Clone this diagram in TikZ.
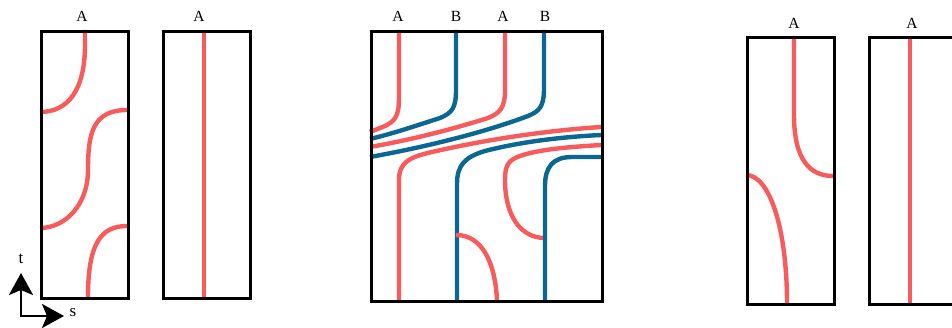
\documentclass[tikz,border=0pt]{standalone}
\usepackage{fontspec}
\setmainfont{Liberation Serif}
\usetikzlibrary{arrows.meta}
\definecolor{strandred}{HTML}{F75B5B}
\definecolor{strandblue}{HTML}{0A6792}
\tikzset{
  frame/.style={draw=black, line width=2.8pt},
  redstrand/.style={draw=strandred, line width=4.4pt},
  bluestrand/.style={draw=strandblue, line width=4.4pt},
  lbl/.style={anchor=base, inner sep=0pt, font=\fontsize{15.5}{17}\selectfont},
  axis/.style={draw=black, line width=2.8pt, -{Stealth[length=22pt,width=24pt,inset=5pt]}},
  axlbl/.style={inner sep=0pt, font=\fontsize{17}{19}\selectfont}
}
\begin{document}
\begin{tikzpicture}[x=1pt,y=-1pt]
\useasboundingbox (0,0) rectangle (952,328);
\clip (0,0) rectangle (952,328);

% ---------- box 1 ----------
\draw[redstrand] (85,30) -- (85,45) .. controls (85,90) and (68,112) .. (40,112);
\draw[redstrand] (127,110) .. controls (92,110) and (88,135) .. (88,170)
                 .. controls (88,205) and (65,228) .. (40,228);
\draw[redstrand] (127,226) .. controls (100,226) and (88,245) .. (88,297);
\node[frame, minimum width=87pt, minimum height=267pt, inner sep=0pt, anchor=north west] (b1) at (40,30) {};
\node[lbl] (l1) at (82,22) {A};

% ---------- box 2 ----------
\draw[redstrand] (204,30) -- (204,297);
\node[frame, minimum width=87pt, minimum height=267pt, inner sep=0pt, anchor=north west] (b2) at (162,30) {};
\node[lbl] (l2) at (199,22) {A};

% ---------- axes ----------
\coordinate (o) at (21,316);
\coordinate (tt) at (21,273);
\coordinate (ss) at (64,316);
\draw[axis] ([yshift=-1.4pt]o) -- (tt);
\draw[axis] (o) -- (ss);
\node[axlbl] (lt) at (21,259) {t};
\node[axlbl] (ls) at (73,313) {s};

% ---------- box 3 ----------
% top strands
\draw[redstrand] (399,30) -- (399,98) .. controls (399,116) and (395,121) .. (385,126) -- (370,132);
\draw[bluestrand] (456,30) -- (456,90) .. controls (456,108) and (452,113) .. (440,118)
                  .. controls (415,126) and (395,133) .. (370,139);
\draw[redstrand] (505,30) -- (505,90) .. controls (505,108) and (500,113) .. (488,118)
                 .. controls (450,130) and (410,140) .. (370,147);
\draw[bluestrand] (544,30) -- (544,88) .. controls (544,106) and (540,111) .. (528,116)
                  .. controls (480,134) and (420,148) .. (370,157);
% bottom strands
\draw[redstrand] (399,300) -- (399,180) .. controls (399,162) and (410,157) .. (432,152)
                 .. controls (480,141) and (540,131) .. (601,127);
\draw[bluestrand] (457,300) -- (457,184) .. controls (457,165) and (465,157) .. (485,151)
                  .. controls (520,142) and (560,137) .. (601,135);
\draw[redstrand] (601,145) .. controls (570,147) and (540,149) .. (520,156)
                 .. controls (508,160) and (505,166) .. (505,180)
                 .. controls (505,215) and (520,238) .. (545,238);
\draw[bluestrand] (601,157) -- (572,157) .. controls (552,157) and (545,168) .. (545,186) -- (545,300);
\draw[redstrand] (456,235) .. controls (482,235) and (495,262) .. (497,300);
\node[frame, minimum width=231pt, minimum height=270pt, inner sep=0pt, anchor=north west] (b3) at (370,30) {};
\node[lbl] (l3) at (398,22) {A};
\node[lbl] (l4) at (456,22) {B};
\node[lbl] (l5) at (503,22) {A};
\node[lbl] (l6) at (545,22) {B};

% ---------- box 5 ----------
\draw[redstrand] (794,36) -- (794,115) .. controls (794,160) and (810,176) .. (833,176);
\draw[redstrand] (746,175) .. controls (770,175) and (787,230) .. (787,303);
\node[frame, minimum width=87pt, minimum height=267pt, inner sep=0pt, anchor=north west] (b5) at (746,36) {};
\node[lbl] (l7) at (794,29) {A};

% ---------- box 6 (cut by the right edge) ----------
\draw[redstrand] (910,36) -- (910,303);
\node[frame, minimum width=87pt, minimum height=267pt, inner sep=0pt, anchor=north west] (b6) at (868,36) {};
\node[lbl] (l8) at (912,29) {A};
\end{tikzpicture}
\end{document}
